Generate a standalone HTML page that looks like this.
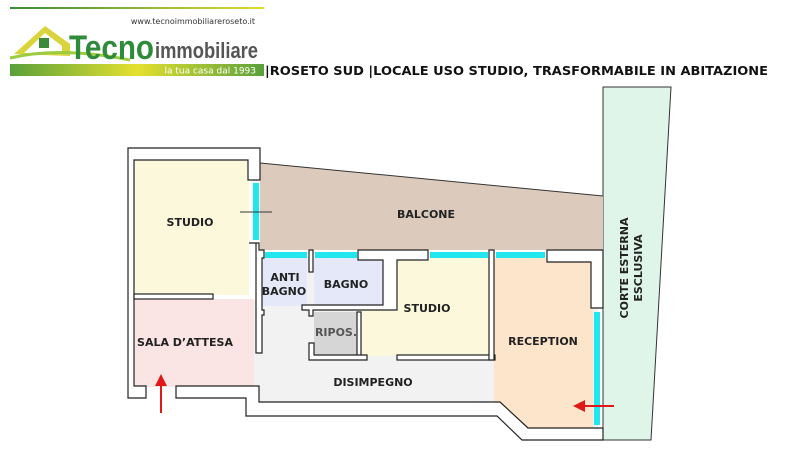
<!DOCTYPE html>
<html><head><meta charset="utf-8"><style>
body{margin:0;width:800px;height:451px;background:#fff;overflow:hidden;font-family:"Liberation Sans","DejaVu Sans",sans-serif}
</style></head><body>
<svg width="800" height="451" viewBox="0 0 800 451" xmlns="http://www.w3.org/2000/svg" font-family="DejaVu Sans, Liberation Sans, sans-serif" font-weight="bold">
<defs>
<linearGradient id="bar" x1="0" x2="1"><stop offset="0" stop-color="#5aa03a"/><stop offset="0.5" stop-color="#e4e030"/><stop offset="1" stop-color="#5aa03a"/></linearGradient>
<linearGradient id="top" x1="0" x2="1"><stop offset="0" stop-color="#3a8a3a"/><stop offset="1" stop-color="#e2dc30"/></linearGradient>
</defs>
<!-- logo -->
<rect x="10" y="7" width="254" height="2" fill="url(#top)"/>
<text x="255" y="24" font-size="8" font-weight="normal" text-anchor="end" fill="#333">www.tecnoimmobiliareroseto.it</text>
<path d="M14 54 L45 26 L70 44 L70 56 Z" fill="#d9d43c"/>
<path d="M24 53 L45 33 L62 46 L62 53 Z" fill="#fff"/>
<rect x="39" y="38" width="10" height="10" fill="#3a8a3a"/>
<path d="M10 58 Q60 46 130 60" stroke="#9ccc40" stroke-width="3" fill="none"/>
<text x="69" y="59" font-size="34" fill="#2e8b3a" font-family="Liberation Sans Narrow, Liberation Sans, sans-serif" textLength="85" lengthAdjust="spacingAndGlyphs">Tecno</text>
<text x="155" y="58" font-size="22" font-weight="bold" fill="#555" font-family="Liberation Sans Narrow, Liberation Sans, sans-serif" textLength="103" lengthAdjust="spacingAndGlyphs">immobiliare</text>
<rect x="10" y="64" width="254" height="12" fill="url(#bar)"/>
<text x="256" y="73.5" font-size="9" font-weight="normal" fill="#fff" text-anchor="end">la tua casa dal 1993</text>
<text x="265" y="75" font-size="12.5" fill="#111" textLength="503" lengthAdjust="spacingAndGlyphs">|ROSETO SUD |LOCALE USO STUDIO, TRASFORMABILE IN ABITAZIONE</text>

<!-- corte -->
<polygon points="603,87 671,87 651,440 603,440" fill="#dff5ea" stroke="#333" stroke-width="1"/>
<!-- balcone -->
<polygon points="260,163 603,196 603,250 260,250" fill="#dccbbd"/>
<line x1="260" y1="163" x2="603" y2="196" stroke="#333"/>
<!-- rooms -->
<rect x="134" y="160" width="115" height="135" fill="#fbf8dc"/>
<rect x="134" y="299" width="120" height="88" fill="#fbe4e4"/>
<rect x="254" y="300" width="245" height="102" fill="#f2f2f2"/>
<polygon points="262,258 598,258 598,428 528,428 500,402 262,402" fill="#f2f2f2"/>
<rect x="262" y="258" width="45" height="48" fill="#e5e8f8"/>
<rect x="314" y="258" width="70" height="50" fill="#e5e8f8"/>
<rect x="314" y="312" width="44" height="44" fill="#d6d6d6"/>
<rect x="362" y="310" width="128" height="46" fill="#fbf8dc"/>
<rect x="397" y="258" width="93" height="60" fill="#fbf8dc"/>
<polygon points="494,258 593,258 593,428 528,428 500,402 494,402" fill="#fde5cc"/>

<g fill="#fff" stroke="#222" stroke-width="1.2">
<path d="M128,148 H260 V180 H248 V160 H134 V386 H146 V398 H128 Z"/>
<path d="M176,386 H259 V402 H500 L528,428 H603 V440 H522 L497,416 H246 V398 H176 Z"/>
<rect x="134" y="294" width="79" height="5"/>
<path d="M249,243 H259 V250 H264 V258 H262 V310 H264 V315 H262 V353 H256 V243 Z"/>
<rect x="309" y="250" width="4" height="22"/>
<path d="M358,250 H428 V260 H397 V310 H313 V316 H309 V310 H302 V305 H383 V260 H358 Z"/>
<rect x="357" y="312" width="4" height="44"/>
<path d="M309,343 H314 V355 H367 V360 H309 Z"/>
<rect x="397" y="355" width="98" height="5"/>
<rect x="489" y="250" width="5" height="110"/>
<path d="M547,250 H603 V308 H591 V262 H547 Z"/>
</g>
<g fill="#22e6ee">
<rect x="253" y="183" width="6" height="57"/>
<rect x="265" y="252" width="42" height="6"/>
<rect x="315" y="252" width="42" height="6"/>
<rect x="430" y="252" width="58" height="6"/>
<rect x="496" y="252" width="49" height="6"/>
<rect x="594" y="312" width="6" height="113"/>
</g>
<line x1="240" y1="212" x2="272" y2="212" stroke="#333"/>
<g stroke="#e01818" stroke-width="2" fill="#e01818">
<line x1="161" y1="413" x2="161" y2="383"/>
<polygon points="155,386 167,386 161,374" stroke="none"/>
<line x1="614" y1="406" x2="582" y2="406"/>
<polygon points="585,400 585,412 573,406" stroke="none"/>
</g>
<g font-size="11" fill="#222" text-anchor="middle">
<text x="190" y="226">STUDIO</text>
<text x="426" y="218">BALCONE</text>
<text x="285" y="281">ANTI</text>
<text x="284" y="295">BAGNO</text>
<text x="346" y="288">BAGNO</text>
<text x="427" y="312">STUDIO</text>
<text x="336" y="336" fill="#555">RIPOS.</text>
<text x="185" y="346">SALA D’ATTESA</text>
<text x="373" y="386">DISIMPEGNO</text>
<text x="543" y="345">RECEPTION</text>
<g transform="translate(632,268) rotate(-90)">
<text x="0" y="-4">CORTE ESTERNA</text>
<text x="0" y="10">ESCLUSIVA</text>
</g>
</g>
</svg>
</body></html>
